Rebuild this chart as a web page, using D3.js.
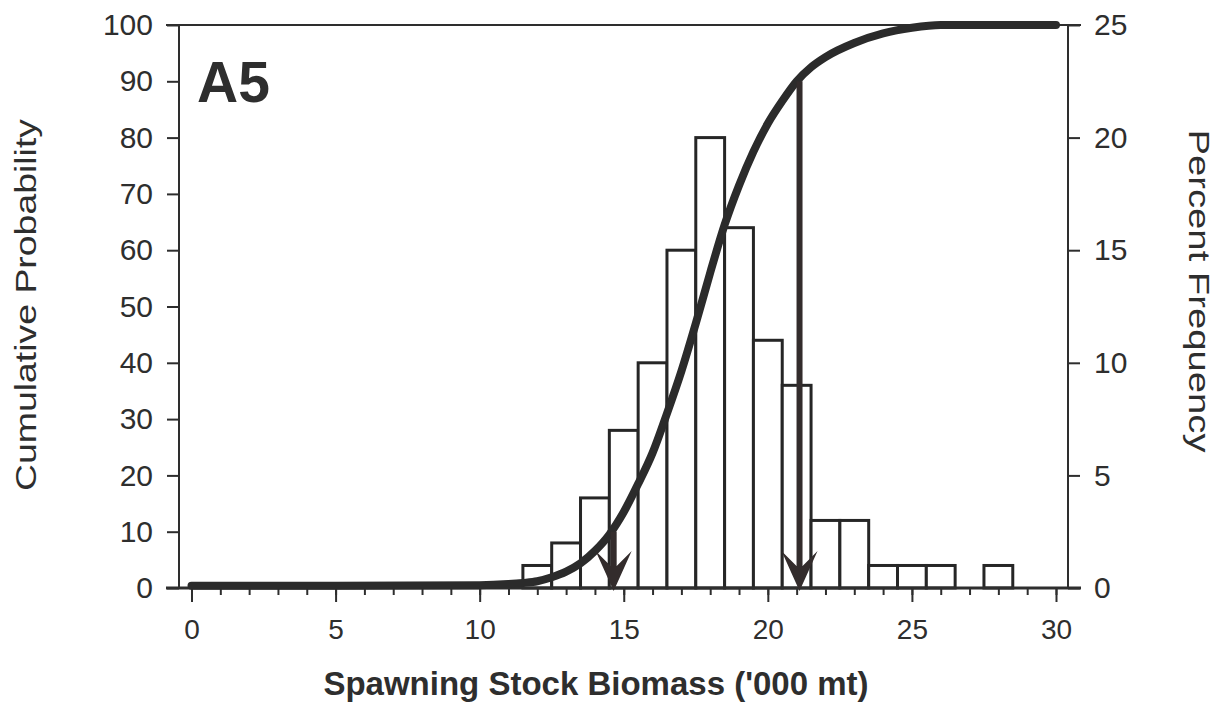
<!DOCTYPE html>
<html>
<head>
<meta charset="utf-8">
<script src="https://cdn.jsdelivr.net/npm/d3@7"></script>
<style>
  html, body { margin: 0; padding: 0; background: #ffffff; }
  svg { display: block; }
  text { font-family: "Liberation Sans", Arial, sans-serif; fill: #2e2e2e; }
</style>
</head>
<body>
<svg id="chart" width="1220" height="704"></svg>
<script>
// ---- data ----
const binCenters = [12, 13, 14, 15, 16, 17, 18, 19, 20, 21, 22, 23, 24, 25, 26, 27, 28];
const percentFrequency = [1, 2, 4, 7, 10, 15, 20, 16, 11, 9, 3, 3, 1, 1, 1, 0, 1];
const cumX = [0, 5, 10, 11, 11.5, 12, 12.5, 13, 13.5, 14, 14.5, 15, 15.5, 16, 16.5, 17, 17.5, 18, 18.5, 19, 19.5, 20, 20.5, 21, 21.5, 22, 23, 24, 25, 26, 30];
const cumP = [0.4, 0.4, 0.5, 0.7, 0.9, 1.2, 1.9, 2.9, 4.4, 6.6, 9.5, 13.5, 18.5, 24, 31, 38.5, 47, 56, 64.5, 71.5, 77.5, 82.5, 86.5, 90, 92.5, 94.3, 96.8, 98.5, 99.5, 100, 100];
const arrowX = [14.65, 21.1];
const arrowP = [10, 90];
const xTicks = [0, 5, 10, 15, 20, 25, 30];
const xMinorTicks = d3.range(0, 31, 1);
const leftTicks = [0, 10, 20, 30, 40, 50, 60, 70, 80, 90, 100];
const rightTicks = [0, 5, 10, 15, 20, 25];
const panelLabel = "A5";
const xTitle = "Spawning Stock Biomass ('000 mt)";
const yLeftTitle = "Cumulative Probability";
const yRightTitle = "Percent Frequency";

// ---- layout ----
const svg = d3.select("#chart");
const ink = "#2e2e2e";
const plotLeft = 179, plotRight = 1068, plotTop = 25, plotBottom = 588;

const x = d3.scaleLinear().domain([0, 30]).range([191.5, 1056]);
const yL = d3.scaleLinear().domain([0, 100]).range([plotBottom, plotTop]);
const yR = d3.scaleLinear().domain([0, 25]).range([plotBottom, plotTop]);

// bars
const bw = x(1) - x(0);
svg.append("g").selectAll("rect")
  .data(binCenters.map((c, i) => ({c, v: percentFrequency[i]})).filter(d => d.v > 0))
  .join("rect")
  .attr("x", d => x(d.c) - bw / 2)
  .attr("y", d => yR(d.v))
  .attr("width", bw)
  .attr("height", d => yR(0) - yR(d.v))
  .attr("fill", "#ffffff")
  .attr("stroke", "#262626")
  .attr("stroke-width", 3);

// frame lines
const frame = svg.append("g").attr("stroke", ink).attr("stroke-width", 2);
frame.append("line").attr("x1", plotLeft).attr("x2", plotLeft).attr("y1", plotTop).attr("y2", plotBottom);
frame.append("line").attr("x1", plotRight).attr("x2", plotRight).attr("y1", plotTop).attr("y2", plotBottom);
frame.append("line").attr("x1", 166).attr("x2", 1081).attr("y1", plotTop).attr("y2", plotTop);
frame.append("line").attr("x1", 166).attr("x2", 1081).attr("y1", plotBottom).attr("y2", plotBottom).attr("stroke-width", 3);

// left axis
const axL = svg.append("g").attr("transform", `translate(${plotLeft},0)`)
  .call(d3.axisLeft(yL).tickValues(leftTicks).tickSize(12).tickPadding(14));
axL.select(".domain").remove();
axL.selectAll("line").attr("stroke", ink).attr("stroke-width", 2);
axL.selectAll("text").attr("font-size", 30).style("fill", ink).attr("font-family", "Liberation Sans, Arial, sans-serif");

// right axis
const axR = svg.append("g").attr("transform", `translate(${plotRight},0)`)
  .call(d3.axisRight(yR).tickValues(rightTicks).tickSize(12).tickPadding(14));
axR.select(".domain").remove();
axR.selectAll("line").attr("stroke", ink).attr("stroke-width", 2);
axR.selectAll("text").attr("font-size", 30).style("fill", ink).attr("font-family", "Liberation Sans, Arial, sans-serif");

// bottom axis minor
const axBm = svg.append("g").attr("transform", `translate(0,${plotBottom})`)
  .call(d3.axisBottom(x).tickValues(xMinorTicks).tickSize(7).tickFormat(""));
axBm.select(".domain").remove();
axBm.selectAll("line").attr("stroke", ink).attr("stroke-width", 2);

// bottom axis major
const axB = svg.append("g").attr("transform", `translate(0,${plotBottom})`)
  .call(d3.axisBottom(x).tickValues(xTicks).tickSize(14).tickPadding(17));
axB.select(".domain").remove();
axB.selectAll("line").attr("stroke", ink).attr("stroke-width", 2);
axB.selectAll("text").attr("font-size", 28).style("fill", ink).attr("font-family", "Liberation Sans, Arial, sans-serif");

// cumulative curve
const line = d3.line().x(d => x(d[0])).y(d => yL(d[1])).curve(d3.curveMonotoneX);
svg.append("path")
  .datum(cumX.map((v, i) => [v, cumP[i]]))
  .attr("d", line)
  .attr("fill", "none")
  .attr("stroke", "#2b2b2b")
  .attr("stroke-width", 8)
  .attr("stroke-linecap", "round");

// arrows
const arrows = svg.append("g");
arrowX.forEach((ax, i) => {
  const px = x(ax);
  const top = yL(arrowP[i]);
  const tip = yL(0) + 3;
  arrows.append("line")
    .attr("x1", px).attr("x2", px)
    .attr("y1", top).attr("y2", tip - 12)
    .attr("stroke", "#332c2c").attr("stroke-width", 6);
  arrows.append("path")
    .attr("d", `M${px - 18},${tip - 40} L${px},${tip} L${px + 18},${tip - 40} L${px + 3},${tip - 25} L${px - 3},${tip - 25} Z`)
    .attr("fill", "#332c2c");
});

// texts
svg.append("text").attr("x", 197).attr("y", 102)
  .attr("font-size", 57).attr("font-weight", "bold").text(panelLabel);

svg.append("text").attr("x", 596).attr("y", 695)
  .attr("text-anchor", "middle").attr("font-size", 33).attr("font-weight", "bold").text(xTitle);

svg.append("text").attr("transform", "translate(36,305) rotate(-90)")
  .attr("text-anchor", "middle").attr("font-size", 29)
  .attr("textLength", 372).attr("lengthAdjust", "spacingAndGlyphs").text(yLeftTitle);

svg.append("text").attr("transform", "translate(1189,291) rotate(90)")
  .attr("text-anchor", "middle").attr("font-size", 29)
  .attr("textLength", 323).attr("lengthAdjust", "spacingAndGlyphs").text(yRightTitle);
</script>
</body>
</html>
